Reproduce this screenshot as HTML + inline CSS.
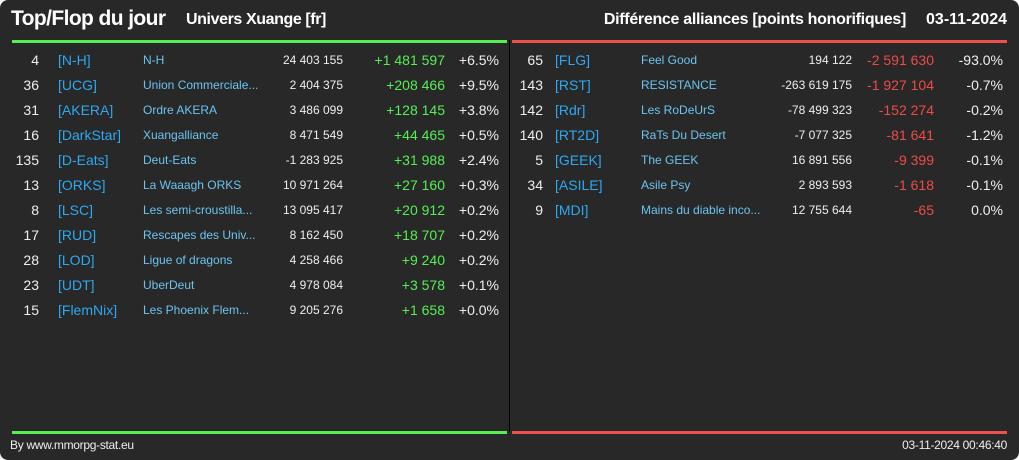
<!DOCTYPE html>
<html><head><meta charset="utf-8"><style>
body{margin:0;background:#fff;}
#c{position:relative;width:1019px;height:460px;background:#282828;border-radius:8px;overflow:hidden;font-family:"Liberation Sans",sans-serif;color:#eee;}
.a{position:absolute;white-space:nowrap;}
.t{font-size:13px;line-height:16px;}
.r{text-align:right;}
</style></head><body>
<div id="c">
<div class="a" style="left:11px;top:7px;font-size:21px;font-weight:bold;color:#fff;letter-spacing:-0.6px">Top/Flop du jour</div>
<div class="a" style="left:186px;top:11px;font-size:16px;font-weight:bold;color:#fff;letter-spacing:-0.4px">Univers Xuange [fr]</div>
<div class="a" style="right:113px;top:11px;font-size:16px;font-weight:bold;color:#fff;letter-spacing:-0.3px">Différence alliances [points honorifiques]</div>
<div class="a" style="right:12px;top:11px;font-size:16px;font-weight:bold;color:#fff">03-11-2024</div>
<div class="a" style="left:12px;top:40px;width:495px;height:3px;background:#55ee55"></div>
<div class="a" style="left:512px;top:40px;width:495px;height:3px;background:#ee5050"></div>
<div class="a" style="left:509px;top:40px;width:1px;height:392px;background:#000"></div>
<div class="a" style="left:12px;top:431px;width:495px;height:3px;background:#55ee55"></div>
<div class="a" style="left:512px;top:431px;width:495px;height:3px;background:#ee5050"></div>
<div class="a" style="left:10px;top:438px;font-size:12px;color:#eee;letter-spacing:-0.3px">By www.mmorpg-stat.eu</div>
<div class="a" style="right:12px;top:438px;font-size:12px;color:#eee;letter-spacing:-0.3px">03-11-2024 00:46:40</div>
</div>
<script>
const topRanks=[4,36,31,16,135,13,8,17,28,23,15];
const topTags=["[N-H]","[UCG]","[AKERA]","[DarkStar]","[D-Eats]","[ORKS]","[LSC]","[RUD]","[LOD]","[UDT]","[FlemNix]"];
const topNames=["N-H","Union Commerciale...","Ordre AKERA","Xuangalliance","Deut-Eats","La Waaagh ORKS","Les semi-croustilla...","Rescapes des Univ...","Ligue of dragons","UberDeut","Les Phoenix Flem..."];
const topTotals=["24 403 155","2 404 375","3 486 099","8 471 549","-1 283 925","10 971 264","13 095 417","8 162 450","4 258 466","4 978 084","9 205 276"];
const topDiffs=["+1 481 597","+208 466","+128 145","+44 465","+31 988","+27 160","+20 912","+18 707","+9 240","+3 578","+1 658"];
const topPcts=["+6.5%","+9.5%","+3.8%","+0.5%","+2.4%","+0.3%","+0.2%","+0.2%","+0.2%","+0.1%","+0.0%"];
const flopRanks=[65,143,142,140,5,34,9];
const flopTags=["[FLG]","[RST]","[Rdr]","[RT2D]","[GEEK]","[ASILE]","[MDI]"];
const flopNames=["Feel Good","RESISTANCE","Les RoDeUrS","RaTs Du Desert","The GEEK","Asile Psy","Mains du diable inco..."];
const flopTotals=["194 122","-263 619 175","-78 499 323","-7 077 325","16 891 556","2 893 593","12 755 644"];
const flopDiffs=["-2 591 630","-1 927 104","-152 274","-81 641","-9 399","-1 618","-65"];
const flopPcts=["-93.0%","-0.7%","-0.2%","-1.2%","-0.1%","-0.1%","0.0%"];
const c=document.getElementById('c');
function cell(txt,x,y,right,color,size,name){
  const d=document.createElement('div');
  d.className='a t'+(right?' r':'');
  d.textContent=txt;
  if(right){d.style.right=(1019-x)+'px';}else{d.style.left=x+'px';}
  d.style.top=(y-8)+'px';d.style.color=color;d.style.fontSize=size+'px';
  
  
  c.appendChild(d);
}
function table(ranks,tags,names,totals,diffs,pcts,cols,dc,prefix){
  ranks.forEach((r,i)=>{
    const y=60+i*25;
    cell(String(r),cols[0],y,true,'#eee',14,prefix+'-rank');
    cell(tags[i],cols[1],y,false,'#2ea8f0',14,prefix+'-tag');
    cell(names[i],cols[2],y,false,'#6cc4f0',12,prefix+'-name');
    cell(totals[i],cols[3],y,true,'#eee',12,prefix+'-total');
    cell(diffs[i],cols[4],y,true,dc,14,prefix+'-diff');
    cell(pcts[i],cols[5],y,true,'#eee',14,prefix+'-pct');
  });
}
table(topRanks,topTags,topNames,topTotals,topDiffs,topPcts,[39,58,143,343,445,499],'#55ee55','top');
table(flopRanks,flopTags,flopNames,flopTotals,flopDiffs,flopPcts,[543,555,641,852,934,1003],'#ee4a4a','flop');
</script>
</body></html>
